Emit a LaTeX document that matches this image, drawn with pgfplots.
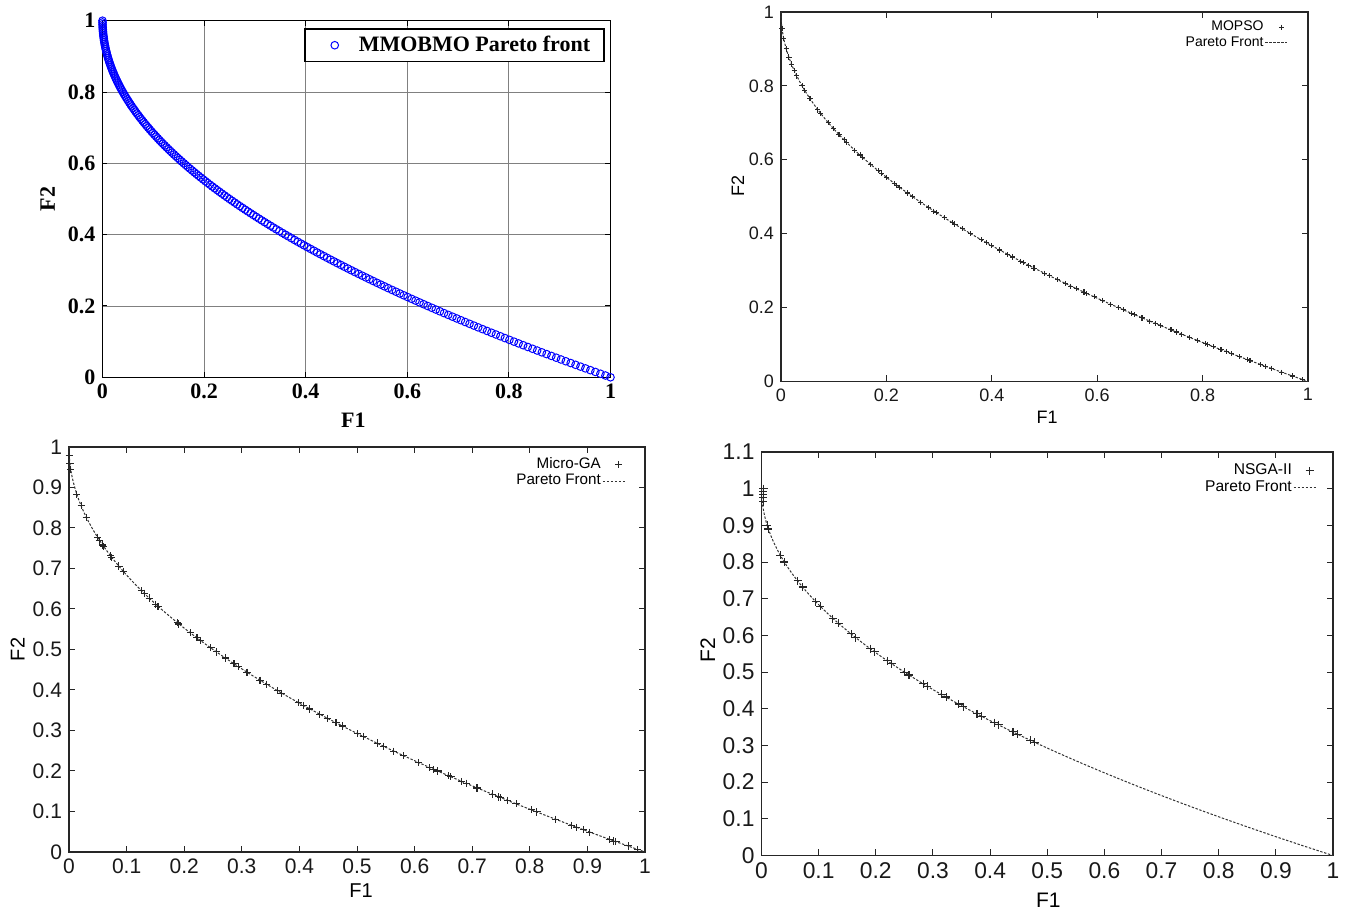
\documentclass[border=0pt]{standalone}
\usepackage{fontspec}
\setmainfont{Liberation Sans}
\newfontfamily\timesfont{Liberation Serif}
\usepackage{pgfplots}
\usepackage{pgfplotstable}
\pgfplotsset{compat=1.18}

\pgfplotstableread{
x y
0 1
0.000025 0.995
0.0001 0.99
0.000225 0.985
0.0004 0.98
0.000625 0.975
0.0009 0.97
0.001225 0.965
0.0016 0.96
0.002025 0.955
0.0025 0.95
0.003025 0.945
0.0036 0.94
0.004225 0.935
0.0049 0.93
0.005625 0.925
0.0064 0.92
0.007225 0.915
0.0081 0.91
0.009025 0.905
0.01 0.9
0.011025 0.895
0.0121 0.89
0.013225 0.885
0.0144 0.88
0.015625 0.875
0.0169 0.87
0.018225 0.865
0.0196 0.86
0.021025 0.855
0.0225 0.85
0.024025 0.845
0.0256 0.84
0.027225 0.835
0.0289 0.83
0.030625 0.825
0.0324 0.82
0.034225 0.815
0.0361 0.81
0.038025 0.805
0.04 0.8
0.042025 0.795
0.0441 0.79
0.046225 0.785
0.0484 0.78
0.050625 0.775
0.0529 0.77
0.055225 0.765
0.0576 0.76
0.060025 0.755
0.0625 0.75
0.065025 0.745
0.0676 0.74
0.070225 0.735
0.0729 0.73
0.075625 0.725
0.0784 0.72
0.081225 0.715
0.0841 0.71
0.087025 0.705
0.09 0.7
0.093025 0.695
0.0961 0.69
0.099225 0.685
0.1024 0.68
0.105625 0.675
0.1089 0.67
0.112225 0.665
0.1156 0.66
0.119025 0.655
0.1225 0.65
0.126025 0.645
0.1296 0.64
0.133225 0.635
0.1369 0.63
0.140625 0.625
0.1444 0.62
0.148225 0.615
0.1521 0.61
0.156025 0.605
0.16 0.6
0.164025 0.595
0.1681 0.59
0.172225 0.585
0.1764 0.58
0.180625 0.575
0.1849 0.57
0.189225 0.565
0.1936 0.56
0.198025 0.555
0.2025 0.55
0.207025 0.545
0.2116 0.54
0.216225 0.535
0.2209 0.53
0.225625 0.525
0.2304 0.52
0.235225 0.515
0.2401 0.51
0.245025 0.505
0.25 0.5
0.255025 0.495
0.2601 0.49
0.265225 0.485
0.2704 0.48
0.275625 0.475
0.2809 0.47
0.286225 0.465
0.2916 0.46
0.297025 0.455
0.3025 0.45
0.308025 0.445
0.3136 0.44
0.319225 0.435
0.3249 0.43
0.330625 0.425
0.3364 0.42
0.342225 0.415
0.3481 0.41
0.354025 0.405
0.36 0.4
0.366025 0.395
0.3721 0.39
0.378225 0.385
0.3844 0.38
0.390625 0.375
0.3969 0.37
0.403225 0.365
0.4096 0.36
0.416025 0.355
0.4225 0.35
0.429025 0.345
0.4356 0.34
0.442225 0.335
0.4489 0.33
0.455625 0.325
0.4624 0.32
0.469225 0.315
0.4761 0.31
0.483025 0.305
0.49 0.3
0.497025 0.295
0.5041 0.29
0.511225 0.285
0.5184 0.28
0.525625 0.275
0.5329 0.27
0.540225 0.265
0.5476 0.26
0.555025 0.255
0.5625 0.25
0.570025 0.245
0.5776 0.24
0.585225 0.235
0.5929 0.23
0.600625 0.225
0.6084 0.22
0.616225 0.215
0.6241 0.21
0.632025 0.205
0.64 0.2
0.648025 0.195
0.6561 0.19
0.664225 0.185
0.6724 0.18
0.680625 0.175
0.6889 0.17
0.697225 0.165
0.7056 0.16
0.714025 0.155
0.7225 0.15
0.731025 0.145
0.7396 0.14
0.748225 0.135
0.7569 0.13
0.765625 0.125
0.7744 0.12
0.783225 0.115
0.7921 0.11
0.801025 0.105
0.81 0.1
0.819025 0.095
0.8281 0.09
0.837225 0.085
0.8464 0.08
0.855625 0.075
0.8649 0.07
0.874225 0.065
0.8836 0.06
0.893025 0.055
0.9025 0.05
0.912025 0.045
0.9216 0.04
0.931225 0.035
0.9409 0.03
0.950625 0.025
0.9604 0.02
0.970225 0.015
0.9801 0.01
0.990025 0.005
1 0
}\pf

\pgfplotstableread{
x y
0.002 0.955
0.005 0.929
0.01 0.9
0.015 0.878
0.02 0.859
0.025 0.842
0.03 0.827
0.04 0.8
0.045 0.788
0.055 0.765
0.07 0.735
0.075 0.726
0.09 0.7
0.1 0.684
0.11 0.668
0.12 0.654
0.125 0.646
0.14 0.626
0.15 0.613
0.155 0.606
0.17 0.588
0.185 0.570
0.19 0.564
0.2 0.553
0.215 0.536
0.22 0.531
0.225 0.526
0.24 0.510
0.25 0.5
0.265 0.485
0.28 0.471
0.29 0.461
0.295 0.457
0.31 0.443
0.325 0.430
0.33 0.426
0.345 0.413
0.36 0.4
0.38 0.384
0.39 0.376
0.4 0.368
0.415 0.356
0.43 0.344
0.44 0.337
0.455 0.325
0.46 0.322
0.47 0.314
0.48 0.307
0.5 0.293
0.51 0.286
0.525 0.275
0.54 0.265
0.55 0.258
0.56 0.252
0.575 0.242
0.58 0.238
0.595 0.229
0.61 0.219
0.625 0.209
0.64 0.2
0.65 0.194
0.665 0.185
0.67 0.181
0.685 0.172
0.7 0.163
0.71 0.157
0.72 0.151
0.74 0.140
0.75 0.134
0.76 0.128
0.775 0.120
0.79 0.111
0.805 0.103
0.81 0.1
0.82 0.094
0.835 0.086
0.845 0.081
0.855 0.075
0.87 0.067
0.885 0.059
0.89 0.057
0.91 0.046
0.92 0.041
0.93 0.036
0.95 0.025
0.97 0.015
0.99 0.005
}\mopso

\pgfplotstableread{
x y
0.0004 0.98
0.0016 0.96
0.003 0.945
0.0136 0.883
0.0211 0.855
0.0301 0.826
0.0497 0.777
0.0528 0.770
0.0588 0.758
0.0603 0.754
0.0723 0.731
0.0739 0.728
0.0867 0.706
0.0942 0.693
0.1258 0.645
0.1304 0.639
0.1394 0.627
0.1507 0.612
0.1545 0.607
0.1884 0.566
0.1907 0.563
0.211 0.541
0.2223 0.529
0.2283 0.522
0.2464 0.504
0.2562 0.494
0.2713 0.479
0.2864 0.465
0.2939 0.458
0.309 0.444
0.3316 0.424
0.3429 0.414
0.3617 0.399
0.3693 0.392
0.3979 0.369
0.4069 0.362
0.4182 0.353
0.4356 0.340
0.4484 0.330
0.4635 0.319
0.4748 0.311
0.5011 0.292
0.5109 0.285
0.535 0.269
0.5464 0.261
0.5637 0.249
0.5803 0.238
0.6066 0.221
0.6255 0.209
0.633 0.204
0.6405 0.200
0.6594 0.188
0.6631 0.186
0.682 0.174
0.6895 0.170
0.7084 0.158
0.7347 0.143
0.746 0.136
0.7498 0.134
0.7611 0.128
0.7762 0.119
0.8026 0.104
0.8124 0.099
0.844 0.081
0.8727 0.066
0.8817 0.061
0.893 0.055
0.9043 0.049
0.9382 0.031
0.9458 0.027
0.9495 0.026
0.9706 0.015
0.9872 0.006
}\microga

\pgfplotstableread{
x y
0.003 0.965
0.003 0.975
0.003 0.985
0.003 0.993
0.003 1.0
0.01 0.9
0.012 0.89
0.033 0.818
0.04 0.8
0.063 0.749
0.072 0.732
0.095 0.692
0.103 0.679
0.125 0.646
0.135 0.633
0.157 0.604
0.165 0.594
0.19 0.564
0.198 0.555
0.22 0.531
0.228 0.523
0.25 0.5
0.258 0.492
0.283 0.468
0.29 0.461
0.315 0.439
0.323 0.432
0.345 0.413
0.353 0.406
0.377 0.386
0.385 0.380
0.407 0.362
0.415 0.356
0.44 0.337
0.448 0.331
0.47 0.314
0.478 0.309
}\nsga

\pgfplotsset{
  gnu/.style={
    scale only axis, clip=false,
    anchor=south west,
    xmin=0, xmax=1, ymin=0,
    axis line style={black!85, line width=0.6pt},
    tick style={black!85, line width=0.5pt},
    major tick length=3pt, tick align=inside,
    /pgf/number format/assume math mode=true,
    tick label style={black!90},
    xlabel={F1}, ylabel={F2},
    legend plot pos=right,
    legend cell align=right,
    legend style={draw=none, fill=none, anchor=north east, inner sep=0pt,
      nodes={inner sep=0.7pt},
      /tikz/every even column/.append style={column sep=1.5pt}},
    legend image code/.code={\draw[mark repeat=2,mark phase=2,##1] plot coordinates {(0pt,0pt) (5.5pt,0pt) (11pt,0pt)};},
  },
  gnumark/.style={only marks, mark=+, black!85, line width=0.55pt,
    legend image code/.code={\path[draw=none,fill=none] (0pt,-1pt) rectangle (14pt,1pt); \draw[mark repeat=2,mark phase=2,##1] plot coordinates {(0pt,0pt) (8pt,0pt) (14pt,0pt)};}},
  mmomark/.style={only marks, mark=o, blue, line width=0.5pt,
    legend image code/.code={\path[draw=none,fill=none] (0pt,-1pt) rectangle (20pt,1pt); \draw[mark repeat=2,mark phase=2,##1] plot coordinates {(0pt,0pt) (10pt,0pt) (20pt,0pt)};}},
  pfline/.style={black!80, line width=0.5pt, dash pattern=on 1.2pt off 0.8pt},
}

\begin{document}
\begin{tikzpicture}
\path[use as bounding box] (0,0) rectangle (673pt,455.5pt);

% Panel 1: MMOBMO
\begin{axis}[
  scale only axis, clip=false,
  at={(51.25pt,266.85pt)}, anchor=south west,
  width=254pt, height=178.3pt,
  xmin=0, xmax=1, ymin=0, ymax=1,
  xtick={0,0.2,0.4,0.6,0.8,1}, ytick={0,0.2,0.4,0.6,0.8,1},
  grid=major, major grid style={black!50, line width=0.4pt},
  axis line style={black, line width=0.6pt},
  tick style={black, line width=0.5pt},
  major tick length=2.5pt, tick align=inside,
  /pgf/number format/assume math mode=true,
  tick label style={font=\timesfont\bfseries\fontsize{11}{13}\selectfont},
  label style={font=\timesfont\bfseries\fontsize{11}{13}\selectfont},
  xlabel={F1}, ylabel={F2},
  xlabel style={at={(axis description cs:0.494,-0.12)}, anchor=center},
  ylabel style={at={(axis description cs:-0.108,0.5)}, anchor=center},
  legend style={at={(0.989,0.979)}, anchor=north east, draw=black, line width=0.8pt,
    inner xsep=5pt, inner ysep=1.5pt,
    font=\timesfont\bfseries\fontsize{11}{13}\selectfont,
    nodes={inner sep=2pt}},
]
\addplot[mmomark, mark size=1.9pt] table {\pf};
\addlegendentry{MMOBMO Pareto front}
\end{axis}

% Panel 2: MOPSO
\begin{axis}[gnu,
  at={(390.5pt,264.75pt)},
  width=263.5pt, height=184.75pt, ymax=1,
  xtick={0,0.2,0.4,0.6,0.8,1}, ytick={0,0.2,0.4,0.6,0.8,1},
  tick label style={font=\fontsize{9}{10}\selectfont},
  label style={font=\fontsize{9}{10}\selectfont},
  xlabel style={at={(axis description cs:0.505,-0.098)}, anchor=center},
  ylabel style={at={(axis description cs:-0.082,0.53)}, anchor=center},
  legend style={at={(0.973,0.981)}, font=\fontsize{7}{8}\selectfont},
]
\addplot[gnumark, mark size=1.3pt] table {\mopso};
\addlegendentry{MOPSO}
\addplot[pfline] table {\pf};
\addlegendentry{Pareto Front}
\end{axis}

% Panel 3: Micro-GA
\begin{axis}[gnu,
  at={(34.5pt,29.5pt)},
  width=288pt, height=202.5pt, ymax=1,
  xtick={0,0.1,0.2,0.3,0.4,0.5,0.6,0.7,0.8,0.9,1},
  ytick={0,0.1,0.2,0.3,0.4,0.5,0.6,0.7,0.8,0.9,1},
  tick label style={font=\fontsize{10.5}{12}\selectfont},
  label style={font=\fontsize{10}{12}\selectfont},
  xlabel style={at={(axis description cs:0.507,-0.096)}, anchor=center},
  ylabel style={at={(axis description cs:-0.089,0.5)}, anchor=center},
  legend style={at={(0.976,0.978)}, font=\fontsize{7.6}{9}\selectfont},
]
\addplot[gnumark, mark size=1.8pt] table {\microga};
\addlegendentry{Micro-GA}
\addplot[pfline] table {\pf};
\addlegendentry{Pareto Front}
\end{axis}

% Panel 4: NSGA-II
\begin{axis}[gnu,
  at={(380.75pt,27.75pt)},
  width=285.75pt, height=201.75pt, ymax=1.1,
  xtick={0,0.1,0.2,0.3,0.4,0.5,0.6,0.7,0.8,0.9,1},
  ytick={0,0.1,0.2,0.3,0.4,0.5,0.6,0.7,0.8,0.9,1,1.1},
  tick label style={font=\fontsize{11.4}{13}\selectfont},
  label style={font=\fontsize{10.5}{12}\selectfont},
  xlabel style={at={(axis description cs:0.502,-0.112)}, anchor=center},
  ylabel style={at={(axis description cs:-0.094,0.509)}, anchor=center},
  legend style={at={(0.981,0.975)}, font=\fontsize{7.8}{9}\selectfont},
]
\addplot[gnumark, mark size=2pt] table {\nsga};
\addlegendentry{NSGA-II}
\addplot[pfline] table {\pf};
\addlegendentry{Pareto Front}
\end{axis}
\end{tikzpicture}
\end{document}
